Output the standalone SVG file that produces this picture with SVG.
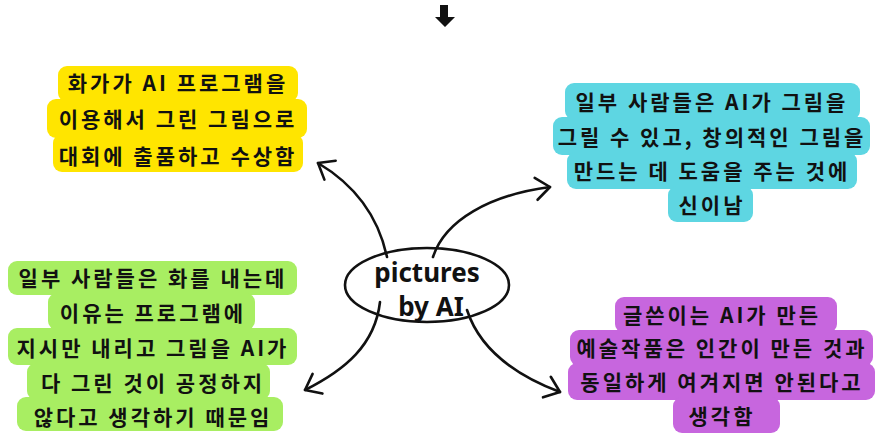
<svg xmlns="http://www.w3.org/2000/svg" width="877" height="435" viewBox="0 0 877 435">
<style>
.t{font-family:"Noto Sans CJK KR","Noto Sans",sans-serif;font-weight:700;font-size:21px;letter-spacing:3px;fill:#111;text-anchor:middle;dominant-baseline:central}
.c{font-family:"Noto Sans","DejaVu Sans",sans-serif;font-weight:700;font-size:26px;fill:#111;text-anchor:middle;dominant-baseline:central}
.y{fill:#FFE500}.b{fill:#5ED6E2}.g{fill:#A8EE62}.p{fill:#C766DE}
.a{fill:none;stroke:#111;stroke-width:2.6;stroke-linecap:round;marker-end:url(#h)}
</style>
<defs>
<marker id="h" markerUnits="userSpaceOnUse" viewBox="-18 -14 21 28" refX="0" refY="0" markerWidth="21" markerHeight="28" orient="auto" overflow="visible">
<path d="M-14 -11 L0 0 L-14 11" fill="none" stroke="#111" stroke-width="2.6" stroke-linecap="round" stroke-linejoin="round"/>
</marker>
</defs>
<rect width="877" height="435" fill="#fff"/>
<g id="top-arrow"><polygon points="440,5 448,5 448,17 455,17 445,27 435,17 440,17" fill="#111"/></g>
<g id="connectors">
<path class="a" d="M387 257 C378 215 355 185 318 163"/>
<path class="a" d="M433 257 C445 220 490 195 550 187"/>
<path class="a" d="M380 302 C375 345 345 370 305 390"/>
<path class="a" d="M467 310 C480 350 515 375 560 392"/>
</g>
<g id="center">
<ellipse cx="427" cy="285" rx="82" ry="37" fill="none" stroke="#111" stroke-width="2.6"/>
<text class="c" x="427" y="272">pictures</text>
<text class="c" x="431" y="306">by AI</text>
</g>
<g id="node-yellow">
<rect class="y" x="58" y="66" width="240" height="36" rx="9"/>
<rect class="y" x="47" y="99" width="260" height="39" rx="9"/>
<rect class="y" x="53" y="134" width="250" height="38" rx="9"/>
<text class="t" x="178" y="82">화가가 AI 프로그램을</text>
<text class="t" x="178" y="118">이용해서 그린 그림으로</text>
<text class="t" x="178" y="155">대회에 출품하고 수상함</text>
</g>
<g id="node-cyan">
<rect class="b" x="565" y="83" width="295" height="37" rx="9"/>
<rect class="b" x="553" y="117" width="317" height="38" rx="9"/>
<rect class="b" x="567" y="152" width="290" height="37" rx="9"/>
<rect class="b" x="668" y="186" width="85" height="36" rx="9"/>
<text class="t" x="712" y="101">일부 사람들은 AI가 그림을</text>
<text class="t" x="712" y="136">그릴 수 있고, 창의적인 그림을</text>
<text class="t" x="712" y="170">만드는 데 도움을 주는 것에</text>
<text class="t" x="712" y="204">신이남</text>
</g>
<g id="node-green">
<rect class="g" x="8" y="261" width="289" height="34" rx="9"/>
<rect class="g" x="48" y="293" width="207" height="37" rx="9"/>
<rect class="g" x="8" y="328" width="289" height="37" rx="9"/>
<rect class="g" x="27" y="363" width="243" height="37" rx="9"/>
<rect class="g" x="17" y="397" width="266" height="34" rx="9"/>
<text class="t" x="153" y="277">일부 사람들은 화를 내는데</text>
<text class="t" x="153" y="312">이유는 프로그램에</text>
<text class="t" x="153" y="347">지시만 내리고 그림을 AI가</text>
<text class="t" x="153" y="382">다 그린 것이 공정하지</text>
<text class="t" x="153" y="416">않다고 생각하기 때문임</text>
</g>
<g id="node-purple">
<rect class="p" x="615" y="297" width="222" height="36" rx="9"/>
<rect class="p" x="570" y="330" width="303" height="36" rx="9"/>
<rect class="p" x="568" y="363" width="307" height="37" rx="9"/>
<rect class="p" x="673" y="397" width="107" height="36" rx="9"/>
<text class="t" x="722" y="314">글쓴이는 AI가 만든</text>
<text class="t" x="722" y="347">예술작품은 인간이 만든 것과</text>
<text class="t" x="722" y="381">동일하게 여겨지면 안된다고</text>
<text class="t" x="722" y="415">생각함</text>
</g>
</svg>
